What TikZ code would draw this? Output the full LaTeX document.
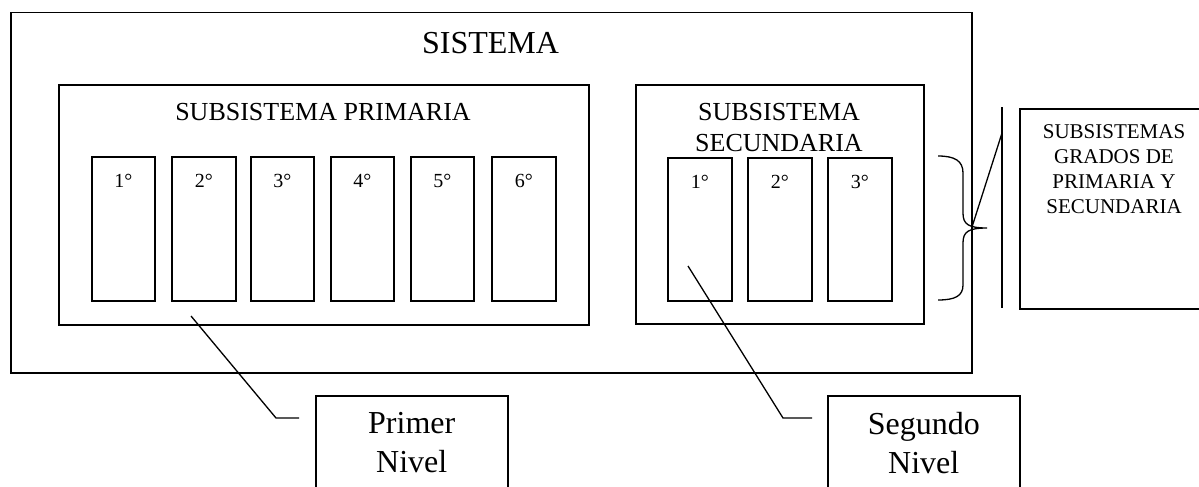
\documentclass[tikz,border=0pt]{standalone}
\usepackage{fontspec}
\setmainfont{Liberation Serif}
\begin{document}
\begin{tikzpicture}[x=1pt,y=-1pt,line width=1.5pt,
  box/.style={draw, rectangle, inner sep=0pt, anchor=north west},
  lbl/.style={anchor=north, inner sep=0pt, align=center},
  big/.style={font=\fontsize{32}{39}\selectfont},
  mid/.style={font=\fontsize{26}{31}\selectfont},
  grade/.style={font=\fontsize{20}{24}\selectfont},
  small/.style={font=\fontsize{21}{25}\selectfont}]
\useasboundingbox (0,0) rectangle (1199,487);
% main boxes
\node[box, minimum width=961pt, minimum height=360pt] (outer) at (10,12) {};
\node[box, minimum width=530pt, minimum height=240pt] (prim) at (58,84) {};
\node[box, minimum width=288pt, minimum height=239pt] (sec) at (635,84) {};
% grade boxes primaria
\node[box, minimum width=63pt, minimum height=144pt] (g1) at (91,156) {};
\node[box, minimum width=64pt, minimum height=144pt] (g2) at (171,156) {};
\node[box, minimum width=63pt, minimum height=144pt] (g3) at (250,156) {};
\node[box, minimum width=63pt, minimum height=144pt] (g4) at (330,156) {};
\node[box, minimum width=63pt, minimum height=144pt] (g5) at (410,156) {};
\node[box, minimum width=64pt, minimum height=144pt] (g6) at (491,156) {};
% grade boxes secundaria
\node[box, minimum width=64pt, minimum height=143pt] (s1) at (667,157) {};
\node[box, minimum width=64pt, minimum height=143pt] (s2) at (747,157) {};
\node[box, minimum width=64pt, minimum height=143pt] (s3) at (827,157) {};
% right box and level boxes
\node[box, minimum width=190pt, minimum height=200pt] (rbox) at (1019,108) {};
\node[box, minimum width=192pt, minimum height=130pt] (pbox) at (315,395) {};
\node[box, minimum width=192pt, minimum height=130pt] (sbox) at (827,395) {};
% titles
\node[lbl, big] (tsis) at (490.5,32) {SISTEMA};
\node[lbl, mid] (tprim) at (323,103) {SUBSISTEMA PRIMARIA};
\node[lbl, mid] (tsec) at (779,103) {SUBSISTEMA\\SECUNDARIA};
\node[lbl, small] (trb) at (1114,124) {SUBSISTEMAS\\GRADOS DE\\PRIMARIA Y\\SECUNDARIA};
\node[lbl, big] (tpn) at ([yshift=-17pt]pbox.north) {Primer\\Nivel};
\node[lbl, big] (tsn) at ([yshift=-17pt]sbox.north) {Segundo\\Nivel};
% grade labels
\foreach \g/\t in {g1/1°,g2/2°,g3/3°,g4/4°,g5/5°,g6/6°,s1/1°,s2/2°,s3/3°}
  \node[lbl, grade] (l\g) at ([yshift=-17pt]\g.north) {\t};
% leader lines
\coordinate (pa) at (191,316);
\coordinate (pb) at (276,418);
\coordinate (pc) at (299,418);
\draw[line width=1.3pt] (pa) -- (pb) -- (pc);
\coordinate (sa) at (688,266);
\coordinate (sb) at (783,418);
\coordinate (sc) at (812,418);
\draw[line width=1.3pt] (sa) -- (sb) -- (sc);
% separator line and diagonal
\coordinate (vt) at (1002,107);
\coordinate (vb) at (1002,308);
\draw (vt) -- (vb);
\coordinate (dt) at (1002,133);
\coordinate (db) at (972,227);
\draw[line width=1.3pt] (dt) -- (db);
% brace
\coordinate (bt) at (938,156);
\coordinate (bm) at (987,228);
\coordinate (bb) at (938,300);
\draw[line width=1.3pt] (bt) .. controls (955,156) and (963,161) .. (963,173)
  -- (963,213) .. controls (963,224) and (968,228) .. (bm)
  .. controls (968,228) and (963,232) .. (963,243)
  -- (963,285) .. controls (963,296) and (955,300) .. (bb);
\end{tikzpicture}
\end{document}
